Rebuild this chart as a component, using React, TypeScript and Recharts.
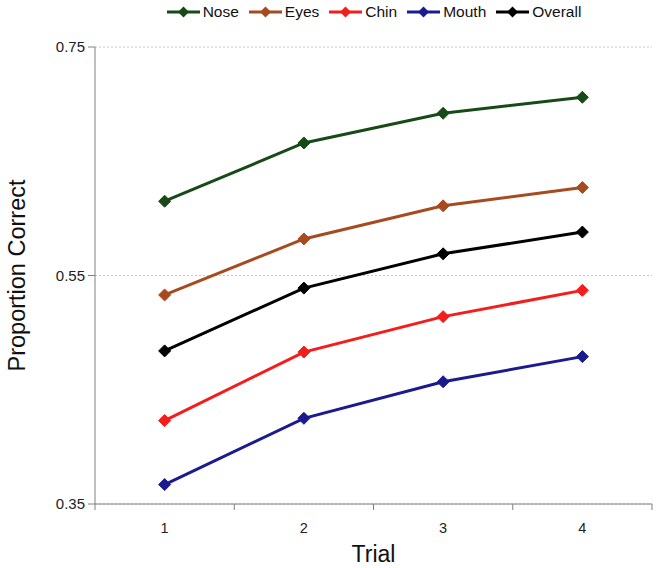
import React from "react";
import { LineChart, Line, XAxis, YAxis, CartesianGrid, Legend } from "recharts";

const trials = [1, 2, 3, 4];
const nose = [0.615, 0.666, 0.692, 0.706];
const eyes = [0.533, 0.582, 0.611, 0.627];
const chin = [0.423, 0.483, 0.514, 0.537];
const mouth = [0.367, 0.425, 0.457, 0.479];
const overall = [0.484, 0.539, 0.569, 0.588];
const yTicks = [0.35, 0.55, 0.75];
const xTicks = [0.5, 1, 1.5, 2, 2.5, 3, 3.5, 4, 4.5];

const data = trials.map((t, i) => ({
  trial: t,
  Nose: nose[i],
  Eyes: eyes[i],
  Chin: chin[i],
  Mouth: mouth[i],
  Overall: overall[i],
}));

const series = [
  { key: "Nose", color: "#174a17" },
  { key: "Eyes", color: "#a64b1f" },
  { key: "Chin", color: "#f51c1c" },
  { key: "Mouth", color: "#1b1b8f" },
  { key: "Overall", color: "#000000" },
];

const FONT = "'Liberation Sans', Arial, sans-serif";

const Diamond = (props: any) => {
  const { cx, cy, stroke } = props;
  if (cx == null || cy == null) return null;
  const r = 6;
  return (
    <polygon
      points={`${cx},${cy - r} ${cx + r},${cy} ${cx},${cy + r} ${cx - r},${cy}`}
      fill={stroke}
      stroke={stroke}
      strokeWidth={1}
    />
  );
};

const XTick = (props: any) => {
  const { x, y, payload } = props;
  const v = payload.value;
  if (Math.abs(v - Math.round(v)) > 0.01) {
    return <line x1={x} y1={y} x2={x} y2={y + 6} stroke="#808080" strokeWidth={1} />;
  }
  return (
    <text x={x} y={y + 29} textAnchor="middle" fontSize={14.5} fill="#222" fontFamily={FONT}>
      {v}
    </text>
  );
};

const LegendContent = () => (
  <div style={{ display: "flex", justifyContent: "center", fontFamily: FONT, fontSize: 15.5, color: "#111", lineHeight: "18px" }}>
    {series.map((s, i) => (
      <div key={s.key} style={{ display: "flex", alignItems: "center", marginRight: i === series.length - 1 ? 0 : 9 }}>
        <svg width={35} height={14} style={{ marginRight: 2 }}>
          <line x1={1} y1={7} x2={34} y2={7} stroke={s.color} strokeWidth={3} />
          <polygon points="17.5,1.5 23,7 17.5,12.5 12,7" fill={s.color} />
        </svg>
        <span>{s.key}</span>
      </div>
    ))}
  </div>
);

export default function App() {
  return (
    <div style={{ position: "absolute", left: 0, top: 0, background: "#fff" }}>
      <LineChart width={663} height={568} data={data} margin={{ top: 27, right: 11, bottom: 0, left: 0 }}>
        <Legend
          verticalAlign="top"
          height={20}
          content={<LegendContent />}
          wrapperStyle={{ top: 3, left: 95, width: 557 }}
        />
        <CartesianGrid vertical={false} stroke="#c8c8c8" strokeDasharray="2 2" />
        <XAxis
          dataKey="trial"
          type="number"
          domain={[0.5, 4.5]}
          ticks={xTicks}
          interval={0}
          tick={<XTick />}
          tickLine={false}
          tickSize={0}
          tickMargin={0}
          height={64}
          axisLine={{ stroke: "#808080" }}
          label={{ value: "Trial", position: "insideBottom", offset: 6, fontSize: 23, fill: "#111", fontFamily: FONT }}
        />
        <YAxis
          type="number"
          domain={[0.35, 0.75]}
          ticks={yTicks}
          interval={0}
          width={95}
          tickSize={7}
          tickMargin={3}
          axisLine={{ stroke: "#808080" }}
          tickLine={{ stroke: "#808080" }}
          tick={{ fontSize: 15, fill: "#222", fontFamily: FONT }}
          tickFormatter={(v: number) => v.toFixed(2)}
          label={{ value: "Proportion Correct", angle: -90, position: "insideLeft", offset: 17, fontSize: 23.5, fill: "#111", fontFamily: FONT, style: { textAnchor: "middle" } }}
        />
        {series.map((s) => (
          <Line
            key={s.key}
            dataKey={s.key}
            stroke={s.color}
            strokeWidth={3}
            dot={<Diamond />}
            activeDot={false}
            isAnimationActive={false}
          />
        ))}
      </LineChart>
    </div>
  );
}
